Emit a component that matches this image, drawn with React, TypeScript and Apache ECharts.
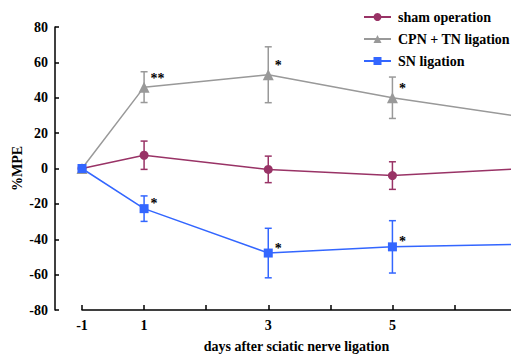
import React, { useEffect, useRef } from "react";
import * as echarts from "echarts";

// Positions along the x axis (one evenly spaced slot per value; no day 0)
const axisDays = [-1, 1, 2, 3, 4, 5, 6, 7];
const tickDays = [-1, 1, 2, 3, 4, 5, 6];
const labeledDays = [-1, 1, 3, 5];

// Measurement days
const days = [-1, 1, 3, 5, 7];

const shamMean = [0, 7.5, -0.5, -4, -0.3];
const shamErr = [0, 8, 7.5, 7.8, 0];
const shamSig = ["", "", "", "", ""];

const cpnMean = [0, 46, 53, 40, 29.7];
const cpnErr = [0, 8.7, 15.8, 11.7, 0];
const cpnSig = ["", "**", "*", "*", ""];

const snMean = [0, -22.7, -47.8, -44.3, -42.9];
const snErr = [0, 7.2, 14, 14.8, 0];
const snSig = ["", "*", "*", "*", ""];

const yTicks = { min: -80, max: 80, interval: 20 };
// visible x range in slot units (the plot begins a little left of the first slot)
const xRange = { min: -0.435, max: 6.91 };

const FONT = "'Liberation Serif', 'Times New Roman', serif";
const COLORS = { sham: "#993366", cpn: "#999999", sn: "#3366ff" };

const xIndex = (d: number) => axisDays.indexOf(d);

function lineSeries(name: string, mean: number[], sig: string[], color: string, symbol: string, symbolSize: number, labelOffset: number[]) {
  return {
    type: "line",
    name,
    data: days.map((d, i) => [xIndex(d), mean[i]]),
    symbol,
    symbolSize,
    color,
    itemStyle: { color },
    lineStyle: { color, width: 1.5 },
    z: 3,
    label: {
      show: true,
      position: "right",
      distance: 1,
      offset: labelOffset,
      formatter: (p: any) => sig[p.dataIndex],
      fontFamily: FONT,
      fontWeight: "bold",
      fontSize: 14,
      color: "#000",
    },
  };
}

function errSeries(mean: number[], err: number[], color: string) {
  return {
    type: "custom",
    data: days.map((d, i) => [xIndex(d), mean[i] - err[i], mean[i] + err[i]]),
    z: 2,
    silent: true,
    renderItem: (params: any, api: any) => {
      const x = api.value(0);
      const lo = api.value(1);
      const hi = api.value(2);
      if (hi - lo <= 0) return { type: "group", children: [] };
      const top = api.coord([x, hi]);
      const bot = api.coord([x, lo]);
      const w = 3.5;
      const style = { stroke: color, lineWidth: 1.5 };
      return {
        type: "group",
        children: [
          { type: "line", shape: { x1: top[0], y1: top[1], x2: bot[0], y2: bot[1] }, style },
          { type: "line", shape: { x1: top[0] - w, y1: top[1], x2: top[0] + w, y2: top[1] }, style },
          { type: "line", shape: { x1: bot[0] - w, y1: bot[1], x2: bot[0] + w, y2: bot[1] }, style },
        ],
      };
    },
  };
}

export default function App() {
  const ref = useRef<HTMLDivElement>(null);
  useEffect(() => {
    if (!ref.current) return;
    const chart = echarts.init(ref.current, null, { renderer: "svg" });
    const textStyle = { fontFamily: FONT, fontWeight: "bold", fontSize: 14, color: "#000" };
    chart.setOption({
      animation: false,
      backgroundColor: "#fff",
      textStyle: { fontFamily: FONT },
      grid: [
        // plot area (starts at the y axis)
        { left: 55, right: 0, top: 27, bottom: 48, containLabel: false, outerBoundsMode: "none" },
        // x axis area (starts at the first day)
        { left: 82, right: 0, top: 27, bottom: 48, containLabel: false, outerBoundsMode: "none" },
      ],
      legend: {
        orient: "vertical",
        left: 363,
        top: 10,
        padding: 0,
        itemWidth: 27,
        itemHeight: 10,
        itemGap: 8,
        textStyle: { ...textStyle, padding: [0, 0, 0, 2] },
        data: ["sham operation", "CPN + TN ligation", "SN ligation"],
      },
      xAxis: [
        {
          gridIndex: 0,
          type: "value",
          min: xRange.min,
          max: xRange.max,
          show: false,
          axisLine: { show: false, onZero: false },
          axisTick: { show: false },
          axisLabel: { show: false },
          splitLine: { show: false },
        },
        {
          gridIndex: 1,
          type: "value",
          min: xIndex(axisDays[0]),
          max: xRange.max,
          name: "days after sciatic nerve ligation",
          nameLocation: "middle",
          nameGap: 29,
          nameMoveOverlap: false,
          nameTextStyle: textStyle,
          axisLine: { show: true, onZero: false, lineStyle: { color: "#000", width: 1.5 } },
          axisTick: {
            show: true,
            inside: true,
            length: 5,
            lineStyle: { color: "#000", width: 1.5 },
            customValues: tickDays.map(xIndex),
          },
          axisLabel: {
            ...textStyle,
            margin: 8,
            customValues: labeledDays.map(xIndex),
            formatter: (v: number) => String(axisDays[Math.round(v)]),
          },
          splitLine: { show: false },
        },
      ],
      yAxis: [
        {
          gridIndex: 0,
          type: "value",
          min: yTicks.min,
          max: yTicks.max,
          interval: yTicks.interval,
          name: "%MPE",
          nameLocation: "middle",
          nameGap: 31,
          nameMoveOverlap: false,
          nameTextStyle: textStyle,
          axisLine: { show: true, onZero: false, lineStyle: { color: "#000", width: 1.5 } },
          axisTick: { show: true, inside: true, length: 4, lineStyle: { color: "#000", width: 1.5 } },
          axisLabel: { ...textStyle, margin: 7 },
          splitLine: { show: false },
        },
        {
          gridIndex: 1,
          type: "value",
          min: yTicks.min,
          max: yTicks.max,
          interval: yTicks.interval,
          show: false,
          axisLine: { show: false, onZero: false },
          axisTick: { show: false },
          axisLabel: { show: false },
          splitLine: { show: false },
        },
      ],
      series: [
        errSeries(shamMean, shamErr, COLORS.sham),
        errSeries(cpnMean, cpnErr, COLORS.cpn),
        errSeries(snMean, snErr, COLORS.sn),
        lineSeries("sham operation", shamMean, shamSig, COLORS.sham, "circle", 9, [0, -6]),
        lineSeries("CPN + TN ligation", cpnMean, cpnSig, COLORS.cpn, "triangle", 11, [0, -9]),
        lineSeries("SN ligation", snMean, snSig, COLORS.sn, "rect", 9, [1, -5]),
      ],
    });
    return () => chart.dispose();
  }, []);
  return <div ref={ref} style={{ position: "fixed", left: 0, top: 0, width: 511, height: 358 }} />;
}
